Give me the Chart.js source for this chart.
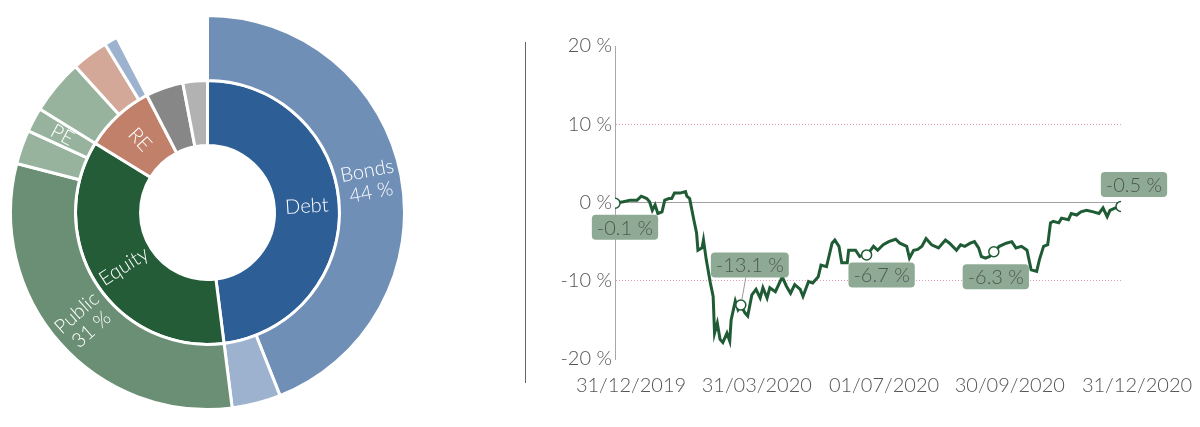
<!DOCTYPE html>
<html>
<head>
<meta charset="utf-8">
<script src="https://cdn.jsdelivr.net/npm/chart.js@4.4.0/dist/chart.umd.min.js"></script>
<style>
html, body { margin: 0; padding: 0; background: #fff; }
body { width: 1200px; height: 427px; position: relative; overflow: hidden; font-family: Lato, sans-serif; }
#pieBox { position: absolute; left: 9px; top: 14px; width: 397px; height: 397px; }
#lineBox { position: absolute; left: 530px; top: 0; width: 670px; height: 427px; }
#divider { position: absolute; left: 525px; top: 42px; width: 1px; height: 341px; background: #666; }
</style>
</head>
<body>
<div id="pieBox"><canvas id="pieCanvas"></canvas></div>
<div id="divider"></div>
<div id="lineBox"><canvas id="lineCanvas"></canvas></div>
<script>
"use strict";

// ---- allocation (sunburst) ----
const innerLabels = ['Debt', 'Equity', 'RE', '', ''];
const innerValues = [48, 35.8, 8.6, 4.6, 3.0];
const outerLabels = ['Bonds', '', 'Public', '', 'PE', '', '', '', '', ''];
const outerShares = ['44 %', '', '31 %', '', '', '', '', '', '', ''];
const outerValues = [44, 4, 31, 2.8, 2.0, 4.5, 3.0, 1.1, 4.6, 3.0];

const innerColors = ['#2e5e96', '#235c37', '#c0806a', '#878787', '#b2b2b2'];
const outerColors = ['#6f8fb7', '#9cb2cf', '#6a8f74', '#97b39e', '#97b39e', '#97b39e',
    '#d4a898', '#9cb2cf', 'rgba(0,0,0,0)', 'rgba(0,0,0,0)'];
const outerBorders = outerColors.map(c => c === 'rgba(0,0,0,0)' ? c : '#fff');

// ---- performance (line) ----
const days = [0, 6, 11, 16, 19, 23, 25, 27, 29, 31, 34, 36, 39, 41, 43, 47, 51, 52, 54, 57,
    59, 60, 63, 64, 66, 69, 71, 72, 74, 76, 78, 81, 83, 84, 87, 89, 91, 94, 96, 99,
    102, 105, 107, 110, 112, 116, 121, 124, 127, 130, 134, 136, 140, 143, 147, 149, 153, 157, 159, 162,
    164, 168, 169, 174, 177, 180, 182, 184, 187, 190, 194, 198, 203, 206, 211, 213, 216, 219, 222, 225,
    229, 234, 239, 242, 247, 250, 253, 257, 260, 263, 265, 268, 271, 274, 278, 283, 287, 290, 294, 298,
    301, 305, 307, 310, 313, 315, 317, 321, 323, 328, 330, 334, 337, 341, 346, 350, 353, 356, 358, 362, 366];
const returns = [-0.1, 0.1, 0.3, 0.3, 0.8, 0.5, 0.1, -1.0, -0.3, -1.4, -1.2, 0.3, 0.5, 0.5, 1.2, 1.2, 1.4, 0.8, 0.5, -2.2,
    -3.9, -6.1, -5.8, -4.8, -7.3, -10.3, -12.0, -16.7, -15.4, -17.5, -17.9, -16.7, -17.7, -15.0, -12.6, -13.7, -13.1, -14.1, -14.5, -11.8,
    -11.1, -12.2, -10.9, -12.2, -10.9, -11.4, -9.5, -10.7, -11.6, -10.5, -11.1, -12.0, -10.1, -10.3, -9.5, -8.0, -8.2, -5.2, -4.8, -5.6,
    -7.7, -7.7, -6.1, -6.1, -6.9, -6.7, -6.7, -6.3, -5.6, -6.1, -5.4, -5.0, -4.7, -5.2, -5.6, -7.1, -6.1, -6.0, -5.6, -4.6,
    -5.4, -5.8, -4.8, -5.2, -6.1, -5.4, -5.6, -5.2, -5.0, -5.8, -6.9, -7.1, -6.9, -6.3, -5.6, -5.2, -5.0, -5.8, -5.6, -6.1,
    -8.6, -8.8, -7.3, -5.6, -5.4, -2.6, -2.4, -2.6, -2.0, -2.2, -1.4, -1.6, -1.2, -1.0, -1.2, -1.4, -0.7, -1.8, -1.0, -0.7, -0.5];

const markDays = [0, 91, 182, 274, 366];
const markValues = [-0.1, -13.1, -6.7, -6.3, -0.5];

const tickDays = [0, 91, 183, 274, 366];
const tickLabels = ['31/12/2019', '31/03/2020', '01/07/2020', '30/09/2020', '31/12/2020'];

const FONT = 'Lato, sans-serif';
const GREEN = '#1f5b34';

// text inside the rings, turned along the radius
const sunburstLabels = {
    id: 'sunburstLabels',
    afterDatasetsDraw(chart) {
        const ctx = chart.ctx;
        const sets = [[0, outerLabels, outerShares], [1, innerLabels, null]];
        ctx.save();
        ctx.fillStyle = '#fff';
        ctx.font = '300 20px ' + FONT;
        ctx.textAlign = 'center';
        ctx.textBaseline = 'middle';
        sets.forEach(([di, names, shares]) => {
            chart.getDatasetMeta(di).data.forEach((arc, i) => {
                if (!names[i]) return;
                const p = arc.getProps(['x', 'y', 'startAngle', 'endAngle', 'innerRadius', 'outerRadius'], true);
                const mid = (p.startAngle + p.endAngle) / 2;
                const r = (p.innerRadius + p.outerRadius) / 2;
                const deg = ((mid * 180 / Math.PI) % 360 + 360) % 360;
                const rot = (deg > 90 && deg < 270) ? mid - Math.PI : mid;
                const lines = shares && shares[i] ? [names[i], shares[i]] : [names[i]];
                ctx.save();
                ctx.translate(p.x + r * Math.cos(mid), p.y + r * Math.sin(mid));
                ctx.rotate(rot);
                lines.forEach((t, k) => ctx.fillText(t, 0, (k - (lines.length - 1) / 2) * 22));
                ctx.restore();
            });
        });
        ctx.restore();
    }
};

new Chart(document.getElementById('pieCanvas'), {
    type: 'doughnut',
    data: {
        labels: outerLabels,
        datasets: [
            {
                data: outerValues,
                backgroundColor: outerColors,
                borderColor: outerBorders,
                borderWidth: 3
            },
            {
                data: innerValues,
                backgroundColor: innerColors,
                borderColor: '#fff',
                borderWidth: 3
            }
        ]
    },
    options: {
        responsive: true,
        maintainAspectRatio: false,
        animation: false,
        cutout: '34%',
        layout: { padding: 0 },
        plugins: { legend: { display: false }, tooltip: { enabled: false } }
    },
    plugins: [sunburstLabels]
});

// value boxes next to the marked points (offset of box centre from point)
const boxOffsets = [[10, 24], [9, -40], [15, 20], [2, 25], [13, -22]];

const valueBoxes = {
    id: 'valueBoxes',
    afterDatasetsDraw(chart) {
        const ctx = chart.ctx;
        const xs = chart.scales.x, ys = chart.scales.y;
        ctx.save();
        ctx.font = '300 20px ' + FONT;
        ctx.textAlign = 'center';
        ctx.textBaseline = 'middle';
        markDays.forEach((d, i) => {
            const px = xs.getPixelForValue(d);
            const py = ys.getPixelForValue(markValues[i]);
            const cx = px + boxOffsets[i][0];
            const cy = py + boxOffsets[i][1];
            const text = markValues[i].toFixed(1) + ' %';
            const w = ctx.measureText(text).width + 10;
            const h = 25;
            if (Math.abs(boxOffsets[i][1]) > 30) {
                ctx.strokeStyle = '#9a9a9a';
                ctx.lineWidth = 1;
                ctx.beginPath();
                ctx.moveTo(cx - 4, cy + h / 2);
                ctx.lineTo(px + 1, py - 5);
                ctx.stroke();
            }
            ctx.fillStyle = '#8eaa95';
            ctx.beginPath();
            ctx.roundRect(cx - w / 2, cy - h / 2, w, h, 4);
            ctx.fill();
            ctx.fillStyle = '#4e5750';
            ctx.fillText(text, cx, cy + 1);
        });
        ctx.restore();
    }
};

new Chart(document.getElementById('lineCanvas'), {
    type: 'line',
    data: {
        datasets: [
            {
                data: markDays.map((d, i) => ({ x: d, y: markValues[i] })),
                showLine: false,
                pointRadius: 5,
                pointBackgroundColor: '#fff',
                pointBorderColor: GREEN,
                pointBorderWidth: 1.5
            },
            {
                data: days.map((d, i) => ({ x: d, y: returns[i] })),
                borderColor: GREEN,
                borderWidth: 3,
                pointRadius: 0,
                tension: 0,
                fill: false
            }
        ]
    },
    options: {
        responsive: true,
        maintainAspectRatio: false,
        animation: false,
        layout: { padding: { top: 46, right: 79, left: 0, bottom: 0 } },
        plugins: { legend: { display: false }, tooltip: { enabled: false } },
        scales: {
            x: {
                type: 'linear',
                min: 0,
                max: 366,
                afterBuildTicks: (scale) => { scale.ticks = tickDays.map(v => ({ value: v })); },
                afterFit: (scale) => { scale.height = 68; },
                grid: { display: false, drawTicks: false },
                border: { display: false },
                ticks: {
                    autoSkip: false,
                    maxRotation: 0,
                    labelOffset: 16,
                    padding: 15,
                    color: '#555',
                    font: { family: FONT, size: 20, weight: 300 },
                    callback: (v) => tickLabels[tickDays.indexOf(v)]
                }
            },
            y: {
                min: -20,
                max: 20,
                afterFit: (scale) => { scale.width = 85; },
                grid: {
                    drawTicks: false,
                    color: (c) => {
                        const v = c.tick ? c.tick.value : null;
                        if (v === 0) return '#a0a0a0';
                        if (v === 10 || v === -10) return '#e59aae';
                        return 'rgba(0,0,0,0)';
                    },
                    lineWidth: 1
                },
                border: {
                    display: true,
                    color: '#a8a8a8',
                    dash: (c) => (c.tick && (c.tick.value === 10 || c.tick.value === -10)) ? [1, 2] : []
                },
                ticks: {
                    stepSize: 10,
                    padding: 3,
                    color: '#555',
                    font: { family: FONT, size: 20, weight: 300 },
                    callback: (v) => v + ' %'
                }
            }
        }
    },
    plugins: [valueBoxes]
});
</script>
</body>
</html>
